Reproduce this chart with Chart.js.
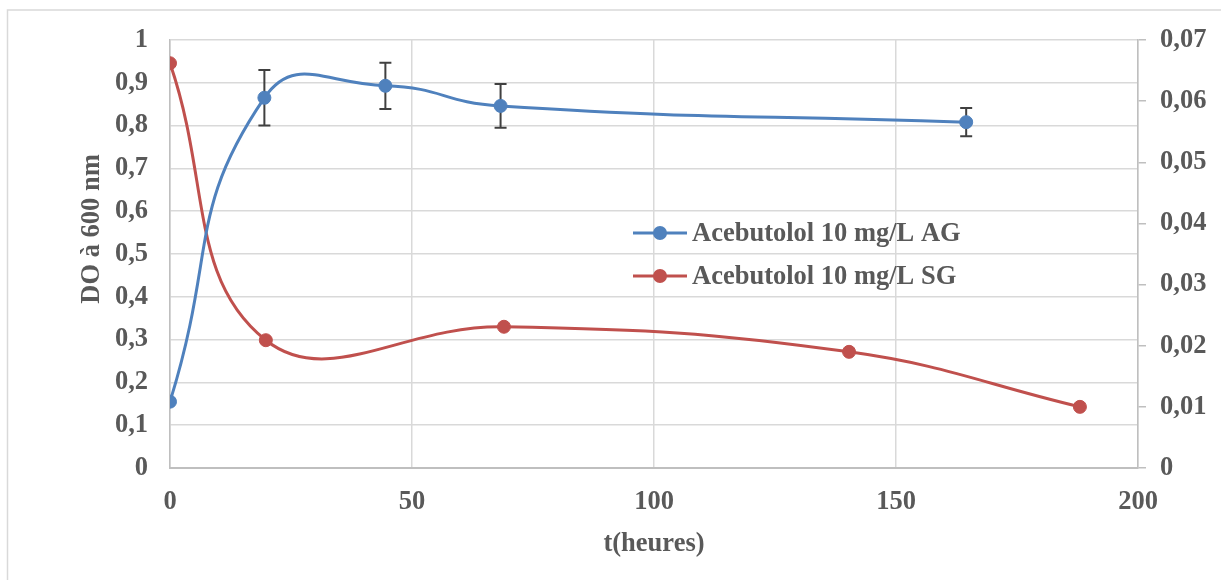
<!DOCTYPE html>
<html lang="fr">
<head>
  <meta charset="UTF-8">
  <meta name="viewport" content="width=device-width, initial-scale=1.0">
  <title>DO à 600 nm - Acebutolol</title>
  <script src="https://cdn.jsdelivr.net/npm/chart.js"></script>
  <style>
    body { margin: 0; background: #fff; }
    .chart-box { position: relative; width: 1221px; height: 580px; }
  </style>
</head>
<body>
  <div class="chart-box">
    <canvas id="doChart"></canvas>
  </div>

  <script>
    // AG series (left axis) with error bars
    const agTimes = [0, 19.5, 44.5, 68.3, 164.5];
    const agValues = [0.155, 0.865, 0.893, 0.846, 0.808];
    const agErrors = [0, 0.065, 0.054, 0.051, 0.033];

    // SG series (right axis)
    const sgTimes = [0, 19.8, 69, 140.3, 188];
    const sgValues = [0.0662, 0.0209, 0.0231, 0.019, 0.0100];

    const seriesLabels = ['Acebutolol 10 mg/L AG', 'Acebutolol 10 mg/L SG'];
    const xTickLabels = ['0', '50', '100', '150', '200'];
    const leftTickLabels = ['0', '0,1', '0,2', '0,3', '0,4', '0,5', '0,6', '0,7', '0,8', '0,9', '1'];
    const rightTickLabels = ['0', '0,01', '0,02', '0,03', '0,04', '0,05', '0,06', '0,07'];

    const BLUE = '#4F81BD';
    const RED = '#C0504D';
    const TEXT = '#595959';
    const FONT = { family: "'Liberation Serif', 'Times New Roman', serif", size: 26.5, weight: 'bold' };

    function toPoints(xs, ys) {
      return xs.map((x, i) => ({ x: x, y: ys[i] }));
    }

    // light frame around the chart (only top and left are inside the canvas)
    const framePlugin = {
      id: 'frame',
      beforeDraw(chart) {
        const ctx = chart.ctx;
        ctx.save();
        ctx.strokeStyle = '#d9d9d9';
        ctx.lineWidth = 1.5;
        ctx.strokeRect(7.5, 10, chart.width + 20, chart.height + 20);
        ctx.restore();
      }
    };

    const errorBarPlugin = {
      id: 'errorBars',
      beforeDatasetsDraw(chart) {
        const ctx = chart.ctx;
        const xs = chart.scales.x;
        const ys = chart.scales.y;
        ctx.save();
        ctx.strokeStyle = '#404040';
        ctx.lineWidth = 2;
        agTimes.forEach((t, i) => {
          if (!agErrors[i]) return;
          const px = xs.getPixelForValue(t);
          const top = ys.getPixelForValue(agValues[i] + agErrors[i]);
          const bot = ys.getPixelForValue(agValues[i] - agErrors[i]);
          ctx.beginPath();
          ctx.moveTo(px, top); ctx.lineTo(px, bot);
          ctx.moveTo(px - 6, top); ctx.lineTo(px + 6, top);
          ctx.moveTo(px - 6, bot); ctx.lineTo(px + 6, bot);
          ctx.stroke();
        });
        ctx.restore();
      }
    };

    // legend inside the plot, plus the rotated left title
    const overlayPlugin = {
      id: 'overlay',
      afterDraw(chart) {
        const ctx = chart.ctx;
        ctx.save();
        ctx.font = `${FONT.weight} ${FONT.size}px ${FONT.family}`;
        ctx.textBaseline = 'middle';
        [BLUE, RED].forEach((col, i) => {
          const y = 233 + i * 43;
          ctx.strokeStyle = col;
          ctx.lineWidth = 3;
          ctx.beginPath();
          ctx.moveTo(633, y); ctx.lineTo(687, y);
          ctx.stroke();
          ctx.fillStyle = col;
          ctx.beginPath();
          ctx.arc(660, y, 7, 0, Math.PI * 2);
          ctx.fill();
          ctx.fillStyle = TEXT;
          ctx.textAlign = 'left';
          ctx.fillText(seriesLabels[i], 692, y + 1);
        });

        ctx.translate(92, 229);
        ctx.rotate(-Math.PI / 2);
        ctx.textAlign = 'center';
        ctx.fillStyle = TEXT;
        ctx.fillText('DO à 600 nm', 0, 0);
        ctx.restore();
      }
    };

    const ctx = document.getElementById('doChart');

    new Chart(ctx, {
      type: 'line',
      data: {
        datasets: [
          {
            label: seriesLabels[0],
            data: toPoints(agTimes, agValues),
            yAxisID: 'y',
            borderColor: BLUE,
            backgroundColor: BLUE,
            pointBackgroundColor: BLUE,
            pointBorderColor: BLUE,
            borderWidth: 3,
            pointRadius: 6.5,
            pointBorderWidth: 1,
            tension: 0.5,
            fill: false
          },
          {
            label: seriesLabels[1],
            data: toPoints(sgTimes, sgValues),
            yAxisID: 'y2',
            borderColor: RED,
            backgroundColor: RED,
            pointBackgroundColor: RED,
            pointBorderColor: RED,
            borderWidth: 3,
            pointRadius: 6.5,
            pointBorderWidth: 1,
            tension: 0.42,
            fill: false
          }
        ]
      },
      options: {
        responsive: true,
        maintainAspectRatio: false,
        animation: false,
        layout: { padding: { left: 75, top: 40, right: 0, bottom: 0 } },
        plugins: {
          legend: { display: false },
          tooltip: { enabled: false }
        },
        scales: {
          x: {
            type: 'linear',
            min: 0,
            max: 200,
            ticks: {
              stepSize: 50,
              color: TEXT,
              font: FONT,
              padding: 18,
              maxRotation: 0,
              callback: (v, i) => xTickLabels[i]
            },
            grid: { color: '#d9d9d9', lineWidth: 1.5, drawTicks: false },
            border: { color: '#bfbfbf', width: 2 },
            title: {
              display: true,
              text: 't(heures)',
              color: TEXT,
              font: FONT,
              padding: { top: 0, bottom: 20 }
            },
            afterFit(scale) { scale.height = 112; }
          },
          y: {
            position: 'left',
            min: 0,
            max: 1,
            ticks: {
              stepSize: 0.1,
              color: TEXT,
              font: FONT,
              padding: 22,
              callback: (v, i) => leftTickLabels[i]
            },
            grid: { color: '#d9d9d9', lineWidth: 1.5, drawTicks: false },
            border: { color: '#bfbfbf', width: 1.5 },
            afterFit(scale) { scale.width = 95; }
          },
          y2: {
            position: 'right',
            min: 0,
            max: 0.07,
            ticks: {
              stepSize: 0.01,
              color: TEXT,
              font: FONT,
              padding: 14,
              callback: (v, i) => rightTickLabels[i]
            },
            grid: { drawOnChartArea: false, color: '#bfbfbf', tickLength: 8, lineWidth: 1.5 },
            border: { color: '#bfbfbf', width: 1.5 },
            afterFit(scale) { scale.width = 83; }
          }
        }
      },
      plugins: [framePlugin, errorBarPlugin, overlayPlugin]
    });
  </script>
</body>
</html>
